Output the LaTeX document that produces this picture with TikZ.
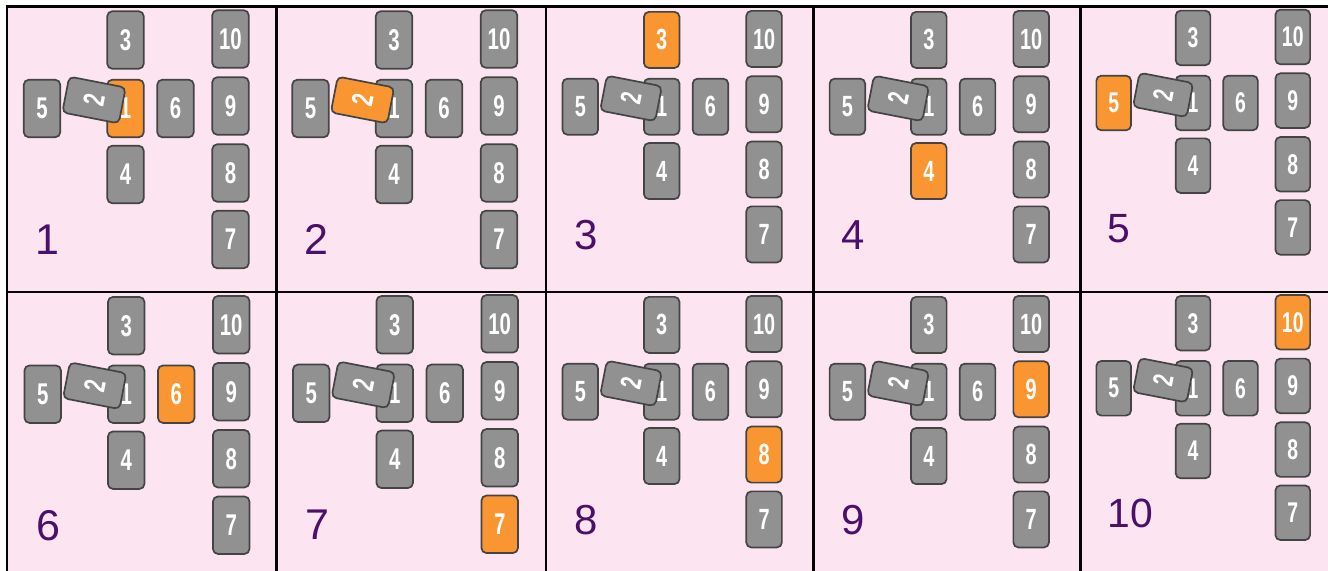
\documentclass[tikz,border=0pt]{standalone}
\usepackage{fontspec}
\setmainfont{Liberation Sans}
\newfontfamily\cardfont[FakeStretch=0.68]{Liberation Sans}
\usetikzlibrary{positioning}
\definecolor{bgpink}{RGB}{253,228,241}
\definecolor{cardgray}{RGB}{145,145,145}
\definecolor{cardedge}{RGB}{68,68,68}
\definecolor{cardorange}{RGB}{249,150,50}
\definecolor{labelpurple}{RGB}{75,16,105}

\begin{document}
\begin{tikzpicture}[x=0.5pt,y=-0.5pt,
   card/.style={draw=cardedge,line width=0.85pt,rounded corners=2.5pt,minimum width=18.25pt,
                minimum height=28.75pt,inner sep=0pt,text=white,
                font=\cardfont\bfseries\fontsize{15}{15}\selectfont},
   num/.style={anchor=base west,inner sep=0pt,text=labelpurple,font=\fontsize{21.5}{21.5}\selectfont}]
  \useasboundingbox (0,0) rectangle (1328,571);
  % frame of the ten panels
  \fill[bgpink] (7,6.5) rectangle (1328,571);
  \draw[line width=1.25pt] (1328,6.5) -- (7,6.5) -- (7,571);
  \draw[line width=1.25pt] (7,292) -- (1328,292);
  \foreach \xl in {276.5,546,813.5,1080.5}
    \draw[line width=1.25pt] (\xl,6.5) -- (\xl,571);
  % one spread per panel, card \i in orange
  \foreach \i/\px/\py/\s in {1/125.5/108.5/1,2/394/108.5/1,3/661.7/106.7/0.975,
      4/928.8/106.7/0.975,5/1193/103/0.95,6/126.2/394.2/1,7/394.7/393.3/1,
      8/661.7/391.7/0.975,9/928.8/391.7/0.975,10/1193/388.3/0.95}{
    \begin{scope}[shift={(\px,\py)},scale=\s,transform shape]
      \ifnum\i=1\relax\def\col{cardorange}\else\def\col{cardgray}\fi
      \node[card,fill=\col] (p\i c1) at (0,0) {1};
      \ifnum\i=2\relax\def\col{cardorange}\else\def\col{cardgray}\fi
      \node[card,fill=\col,rotate=79] (p\i c2) at (-31.5,-8.5) {2};
      \foreach \c/\dx/\dy in {3/0/-68.5,4/0/66,5/-83.5/0,6/50/0,7/105/131,
          8/105/64.5,9/105/-2.5,10/105/-69.5}{
        \ifnum\c=\i\relax\def\col{cardorange}\else\def\col{cardgray}\fi
        \node[card,fill=\col] (p\i c\c) at (\dx,\dy) {\c};
      }
      \node[num] (p\i n) at (-90,146.5) {\i};
    \end{scope}
  }
\end{tikzpicture}
\end{document}
